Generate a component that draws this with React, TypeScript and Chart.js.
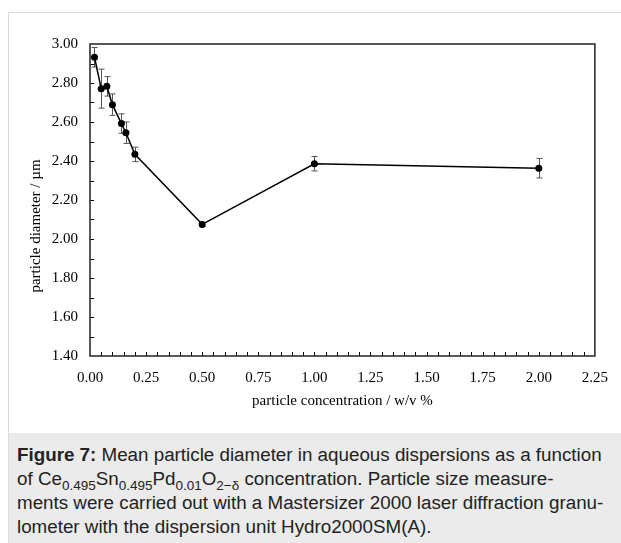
import React, { useEffect, useRef } from "react";
import { Chart, registerables } from "chart.js";

Chart.register(...registerables);

const concentration = [0.02, 0.05, 0.075, 0.1, 0.14, 0.16, 0.2, 0.5, 1.0, 2.0];
const diameter = [2.932, 2.771, 2.783, 2.689, 2.592, 2.545, 2.434, 2.075, 2.386, 2.363];
const errorBar = [0.05, 0.1, 0.05, 0.055, 0.05, 0.055, 0.037, 0.01, 0.037, 0.05];

const X_MIN = 0;
const X_MAX = 2.25;
const X_STEP = 0.25;
const X_MINOR = 0.05;
const Y_MIN = 1.4;
const Y_MAX = 3.0;
const Y_STEP = 0.2;
const Y_MINOR = 0.1;

const xTitle = "particle concentration / w/v %";
const yTitle = "particle diameter / µm";

const SERIF = "'Liberation Serif', 'Times New Roman', serif";

const decorPlugin = {
  id: "decor",
  beforeDatasetsDraw(chart: any) {
    const ctx = chart.ctx;
    const xs = chart.scales.x;
    const ys = chart.scales.y;
    ctx.save();
    ctx.strokeStyle = "#555";
    ctx.lineWidth = 1;
    concentration.forEach((c, i) => {
      const px = Math.round(xs.getPixelForValue(c)) + 0.5;
      const top = ys.getPixelForValue(diameter[i] + errorBar[i]);
      const bot = ys.getPixelForValue(diameter[i] - errorBar[i]);
      ctx.beginPath();
      ctx.moveTo(px, top);
      ctx.lineTo(px, bot);
      ctx.moveTo(px - 3, top);
      ctx.lineTo(px + 3, top);
      ctx.moveTo(px - 3, bot);
      ctx.lineTo(px + 3, bot);
      ctx.stroke();
    });
    ctx.restore();
  },
  afterDraw(chart: any) {
    const ctx = chart.ctx;
    const { left, right, top, bottom } = chart.chartArea;
    const xs = chart.scales.x;
    const ys = chart.scales.y;
    ctx.save();
    ctx.strokeStyle = "#000";
    ctx.lineWidth = 1;
    ctx.beginPath();
    const nx = Math.round((X_MAX - X_MIN) / X_MINOR);
    for (let i = 1; i < nx; i++) {
      const px = Math.round(xs.getPixelForValue(X_MIN + i * X_MINOR)) + 0.5;
      ctx.moveTo(px, bottom);
      ctx.lineTo(px, bottom - 4);
    }
    const ny = Math.round((Y_MAX - Y_MIN) / Y_MINOR);
    for (let i = 1; i < ny; i++) {
      const py = Math.round(ys.getPixelForValue(Y_MIN + i * Y_MINOR)) + 0.5;
      ctx.moveTo(left, py);
      ctx.lineTo(left + 4, py);
    }
    ctx.stroke();
    ctx.lineWidth = 1.5;
    ctx.strokeStyle = "#222";
    ctx.strokeRect(left, top, right - left, bottom - top);
    // y axis title (positioned slightly below the centre, as in the original)
    ctx.translate(27, 213);
    ctx.rotate(-Math.PI / 2);
    ctx.fillStyle = "#000";
    ctx.font = `15px ${SERIF}`;
    ctx.textAlign = "center";
    ctx.textBaseline = "middle";
    ctx.fillText(yTitle, 0, 0);
    ctx.restore();
  },
};

function ChartCanvas() {
  const ref = useRef<HTMLCanvasElement | null>(null);
  useEffect(() => {
    if (!ref.current) return;
    const chart = new Chart(ref.current, {
      type: "scatter",
      data: {
        datasets: [
          {
            data: concentration.map((c, i) => ({ x: c, y: diameter[i] })),
            showLine: true,
            borderColor: "#000",
            borderWidth: 1.5,
            pointRadius: 3.5,
            pointBackgroundColor: "#000",
            pointBorderColor: "#000",
            pointBorderWidth: 0,
          },
        ],
      },
      options: {
        animation: false,
        responsive: true,
        maintainAspectRatio: false,
        layout: { padding: { top: 31, right: 26, left: 0, bottom: 0 } },
        plugins: { legend: { display: false }, tooltip: { enabled: false } },
        scales: {
          x: {
            type: "linear",
            min: X_MIN,
            max: X_MAX,
            grid: { display: false, drawTicks: false },
            border: { display: false },
            ticks: {
              stepSize: X_STEP,
              padding: 13,
              color: "#000",
              font: { family: SERIF, size: 15 },
              maxRotation: 0,
              callback: (v: any) => Number(v).toFixed(2),
            },
            title: {
              display: true,
              text: xTitle,
              color: "#000",
              font: { family: SERIF, size: 15 },
              padding: { top: 0, bottom: 23 },
            },
            afterFit: (s: any) => {
              s.height = 77;
            },
          },
          y: {
            type: "linear",
            min: Y_MIN,
            max: Y_MAX,
            grid: { display: false, drawTicks: false },
            border: { display: false },
            ticks: {
              stepSize: Y_STEP,
              padding: 12,
              color: "#000",
              font: { family: SERIF, size: 15 },
              callback: (v: any) => Number(v).toFixed(2),
            },
            title: { display: false },
            afterFit: (s: any) => {
              s.width = 81;
            },
          },
        },
      },
      plugins: [decorPlugin],
    } as any);
    return () => chart.destroy();
  }, []);
  return <canvas ref={ref} />;
}

const subStyle = { fontSize: 13.5, lineHeight: 0 };

export default function App() {
  return (
    <div
      style={{
        position: "absolute",
        left: 8,
        top: 12,
        width: 613,
        height: 531,
        borderTop: "1px solid #dcdcdc",
        borderLeft: "1px solid #dcdcdc",
        boxSizing: "border-box",
        overflow: "hidden",
        background: "#fff",
      }}
    >
      <div style={{ position: "relative", width: 612, height: 420 }}>
        <ChartCanvas />
      </div>
      <div
        style={{
          width: 612,
          height: 110,
          background: "#ebebeb",
          boxSizing: "border-box",
          padding: "10px 8px 0 8px",
          fontFamily: "'Liberation Sans', Arial, sans-serif",
          fontSize: 18.8,
          lineHeight: "24px",
          color: "#222",
          whiteSpace: "nowrap",
        }}
      >
        <b>Figure 7:</b> Mean particle diameter in aqueous dispersions as a function
        <br />
        of Ce<sub style={subStyle}>0.495</sub>Sn<sub style={subStyle}>0.495</sub>Pd
        <sub style={subStyle}>0.01</sub>O<sub style={subStyle}>2−δ</sub> concentration. Particle size measure-
        <br />
        ments were carried out with a Mastersizer 2000 laser diffraction granu-
        <br />
        lometer with the dispersion unit Hydro2000SM(A).
      </div>
    </div>
  );
}
